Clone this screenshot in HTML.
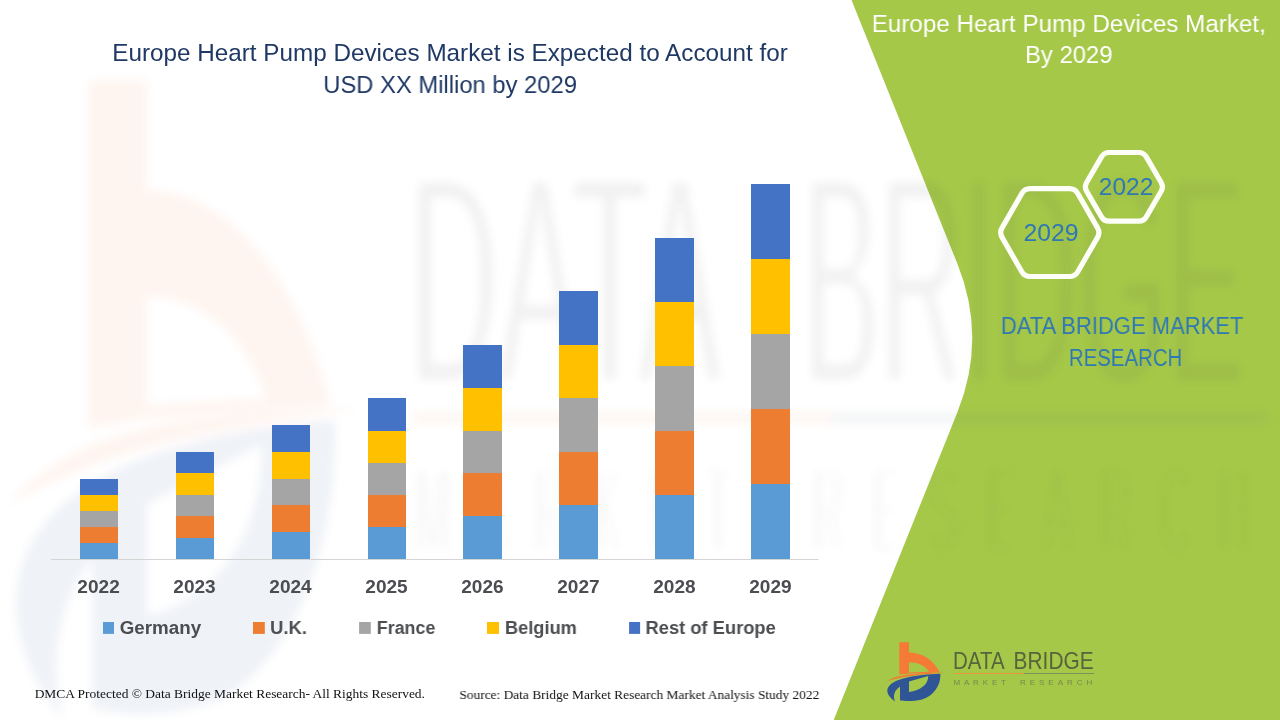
<!DOCTYPE html>
<html>
<head>
<meta charset="utf-8">
<title>Europe Heart Pump Devices Market</title>
<style>
  html, body { margin: 0; padding: 0; background: #ffffff; }
  body { width: 1280px; height: 720px; overflow: hidden; position: relative; font-family: "Liberation Sans", sans-serif; }
  #stage { position: absolute; left: 0; top: 0; width: 1280px; height: 720px; overflow: hidden; background: #fff; }
  svg.layer { position: absolute; left: 0; top: 0; }
  .t { position: absolute; white-space: nowrap; line-height: 1; transform-origin: 0 0; will-change: transform; }
  .title { color: #1f3864; font-size: 22px; }
  .ptitle { color: #ffffff; font-size: 22px; }
  .dbmr { color: #2f78b4; font-size: 22px; }
  .yr { color: #4b4d51; font-weight: bold; font-size: 17.5px; }
  .lg { color: #4b4d51; font-weight: bold; font-size: 17.5px; }
  .ft { color: #111111; font-family: "Liberation Serif", serif; font-size: 13.3px; }
  .hx { color: #2f78b4; font-size: 22px; }
</style>
</head>
<body>
<div id="stage">

<!-- shapes layer -->
<svg class="layer" width="1280" height="720" viewBox="0 0 1280 720">
  <defs>
    <filter id="blur6" x="-5%" y="-5%" width="110%" height="110%"><feGaussianBlur stdDeviation="5"/></filter>
  
    <symbol id="icon" viewBox="886 640 60 64" preserveAspectRatio="none" overflow="visible">
      <path fill="#f47a35" fill-rule="evenodd" d="M899.3 642.2 H909 V652.4 C922 652.4 934 660 939.7 672.4 L909 673.6 L899.3 674.5 Z M909 662.3 V672.4 L929 671.8 C925 665 917 662.3 909 662.3 Z"/>
      <path fill="#f47a35" d="M886 681.6 C896 675.5 910 672.8 944.5 672.8 C915 674.8 900 677.2 886 681.6 Z"/>
      <path fill="#2f5597" fill-rule="evenodd" d="M895 701.6 C887 696 885 690 890 685 C897 678.5 915 674.8 940.3 673.8 C941 684 935 695 922 699.6 C913 701.6 905 701.2 900 700.6 L900 686.6 C894.5 690.5 892.5 695.5 895 701.6 Z M909 681.6 L928.2 676 C928.6 684 921 690.5 909 692 Z"/>
    </symbol>
    <filter id="thinblur" x="-5%" y="-20%" width="110%" height="140%">
      <feMorphology operator="erode" radius="0 4"/>
      <feGaussianBlur stdDeviation="5"/>
    </filter>
  </defs>



  <!-- green panel -->
  <path id="panel" d="M851.5 0 L957.4 263.8 Q987.2 338 957.4 412.3 L833.7 720 L1280 720 L1280 0 Z" fill="#a5c849"/>

  <!-- watermark (stretched, blurred logo) -->
  <g id="wm" opacity="0.075">
    <g filter="url(#blur6)">
      <use href="#icon" x="8.6" y="57" width="360" height="688"/>
      <rect x="413" y="413" width="417" height="10" fill="#e8863f"/>
      <rect x="830" y="413" width="437" height="10" fill="#5f6f7f"/>
    </g>
    <g filter="url(#thinblur)" font-family="Liberation Sans, sans-serif" fill="#4a4a4a">
      <text x="409" y="383" font-size="297" textLength="312" lengthAdjust="spacingAndGlyphs">DATA</text>
      <text x="803" y="383" font-size="297" textLength="441" lengthAdjust="spacingAndGlyphs">BRIDGE</text>
      <g transform="translate(415 553) scale(0.34 1)" fill-opacity="0.9">
        <text x="0" y="0" font-size="124" textLength="930" lengthAdjust="spacing">MARKET</text>
        <text x="1171" y="0" font-size="124" textLength="1283" lengthAdjust="spacing">RESEARCH</text>
      </g>
    </g>
  </g>


  <!-- small logo -->
  <g id="logo-small">
    <use href="#icon" x="886" y="640" width="60" height="64"/>
    <g font-family="Liberation Sans, sans-serif">
      <text x="953" y="669.2" font-size="24.4" fill="#4f5a3c" fill-opacity="0.92" textLength="51.6" lengthAdjust="spacingAndGlyphs">DATA</text>
      <text x="1013.6" y="669.2" font-size="24.4" fill="#4f5a3c" fill-opacity="0.92" textLength="80" lengthAdjust="spacingAndGlyphs">BRIDGE</text>
      <rect x="953.4" y="673" width="70.4" height="1" fill="#e8963f"/>
      <rect x="1023.8" y="673" width="70.4" height="1" fill="#7f8f5a"/>
      <text x="953.4" y="685.4" font-size="8" fill="#6f7c4c" fill-opacity="0.85" textLength="52.6" lengthAdjust="spacing">MARKET</text>
      <text x="1020" y="685.4" font-size="8" fill="#6f7c4c" fill-opacity="0.85" textLength="72.2" lengthAdjust="spacing">RESEARCH</text>
    </g>
  </g>

  <!-- axis -->
  <rect x="51" y="559" width="767.5" height="1" fill="#d4d4d4"/>

  <!-- bars -->
  <g id="bars" shape-rendering="crispEdges">
    <!-- 2022 -->
    <rect x="80" y="479" width="38" height="16" fill="#4472c4"/>
    <rect x="80" y="495" width="38" height="16" fill="#ffc000"/>
    <rect x="80" y="511" width="38" height="16" fill="#a5a5a5"/>
    <rect x="80" y="527" width="38" height="16" fill="#ed7d31"/>
    <rect x="80" y="543" width="38" height="16" fill="#5b9bd5"/>
    <!-- 2023 -->
    <rect x="176" y="452" width="38" height="21" fill="#4472c4"/>
    <rect x="176" y="473" width="38" height="22" fill="#ffc000"/>
    <rect x="176" y="495" width="38" height="21" fill="#a5a5a5"/>
    <rect x="176" y="516" width="38" height="22" fill="#ed7d31"/>
    <rect x="176" y="538" width="38" height="21" fill="#5b9bd5"/>
    <!-- 2024 -->
    <rect x="272" y="425" width="38" height="27" fill="#4472c4"/>
    <rect x="272" y="452" width="38" height="27" fill="#ffc000"/>
    <rect x="272" y="479" width="38" height="26" fill="#a5a5a5"/>
    <rect x="272" y="505" width="38" height="27" fill="#ed7d31"/>
    <rect x="272" y="532" width="38" height="27" fill="#5b9bd5"/>
    <!-- 2025 -->
    <rect x="368" y="398" width="38" height="33" fill="#4472c4"/>
    <rect x="368" y="431" width="38" height="32" fill="#ffc000"/>
    <rect x="368" y="463" width="38" height="32" fill="#a5a5a5"/>
    <rect x="368" y="495" width="38" height="32" fill="#ed7d31"/>
    <rect x="368" y="527" width="38" height="32" fill="#5b9bd5"/>
    <!-- 2026 -->
    <rect x="463" y="345" width="39" height="43" fill="#4472c4"/>
    <rect x="463" y="388" width="39" height="43" fill="#ffc000"/>
    <rect x="463" y="431" width="39" height="42" fill="#a5a5a5"/>
    <rect x="463" y="473" width="39" height="43" fill="#ed7d31"/>
    <rect x="463" y="516" width="39" height="43" fill="#5b9bd5"/>
    <!-- 2027 -->
    <rect x="559" y="291" width="39" height="54" fill="#4472c4"/>
    <rect x="559" y="345" width="39" height="53" fill="#ffc000"/>
    <rect x="559" y="398" width="39" height="54" fill="#a5a5a5"/>
    <rect x="559" y="452" width="39" height="53" fill="#ed7d31"/>
    <rect x="559" y="505" width="39" height="54" fill="#5b9bd5"/>
    <!-- 2028 -->
    <rect x="655" y="238" width="39" height="64" fill="#4472c4"/>
    <rect x="655" y="302" width="39" height="64" fill="#ffc000"/>
    <rect x="655" y="366" width="39" height="65" fill="#a5a5a5"/>
    <rect x="655" y="431" width="39" height="64" fill="#ed7d31"/>
    <rect x="655" y="495" width="39" height="64" fill="#5b9bd5"/>
    <!-- 2029 -->
    <rect x="751" y="184" width="39" height="75" fill="#4472c4"/>
    <rect x="751" y="259" width="39" height="75" fill="#ffc000"/>
    <rect x="751" y="334" width="39" height="75" fill="#a5a5a5"/>
    <rect x="751" y="409" width="39" height="75" fill="#ed7d31"/>
    <rect x="751" y="484" width="39" height="75" fill="#5b9bd5"/>
  </g>

  <!-- legend swatches -->
  <g id="swatches">
    <rect x="103" y="622" width="11" height="11.9" fill="#5b9bd5"/>
    <rect x="253" y="622" width="11.8" height="11.9" fill="#ed7d31"/>
    <rect x="359.1" y="622" width="11.7" height="11.9" fill="#a5a5a5"/>
    <rect x="487" y="622" width="12" height="11.9" fill="#ffc000"/>
    <rect x="629.1" y="622" width="11" height="11.9" fill="#4472c4"/>
  </g>

  <!-- hexagons -->
  <g id="hexes" fill="none" stroke="#fdfef8" stroke-width="5.2" stroke-linejoin="round">
    <path d="M1002.04 237.37 Q999.30 232.60 1002.04 227.83 L1021.81 193.47 Q1024.55 188.70 1030.05 188.70 L1069.55 188.70 Q1075.05 188.70 1077.79 193.47 L1097.56 227.83 Q1100.30 232.60 1097.56 237.37 L1077.79 271.73 Q1075.05 276.50 1069.55 276.50 L1030.05 276.50 Q1024.55 276.50 1021.81 271.73 Z"/>
    <path d="M1086.61 191.18 Q1084.10 186.85 1086.61 182.52 L1101.49 156.83 Q1104.00 152.50 1109.00 152.50 L1138.80 152.50 Q1143.80 152.50 1146.31 156.83 L1161.19 182.52 Q1163.70 186.85 1161.19 191.18 L1146.31 216.87 Q1143.80 221.20 1138.80 221.20 L1109.00 221.20 Q1104.00 221.20 1101.49 216.87 Z"/>
  </g>
</svg>

<!-- text layer -->
<div class="t title" id="t1" style="left:112px; top:41.00px; font-size:24.20px; transform:translateX(0.23px) scaleX(1.0030);">Europe Heart Pump Devices Market is Expected to Account for</div>
<div class="t title" id="t2" style="left:323px; top:73.00px; font-size:24.20px; transform:translateX(0.26px) scaleX(0.9828);">USD XX Million by 2029</div>

<div class="t ptitle" id="p1" style="left:871px; top:11.95px; font-size:24.49px; transform:translateX(0.72px) scaleX(0.9885);">Europe Heart Pump Devices Market,</div>
<div class="t ptitle" id="p2" style="left:1025px; top:42.95px; font-size:24.49px; transform:translateX(0.00px) scaleX(0.9741);">By 2029</div>

<div class="t hx" id="h1" style="left:1023px; top:220.97px; font-size:24.00px; transform:translateX(0.51px) scaleX(1.0324);">2029</div>
<div class="t hx" id="h2" style="left:1098px; top:174.97px; font-size:24.00px; transform:translateX(0.80px) scaleX(1.0198);">2022</div>

<div class="t dbmr" id="d1" style="left:1000px; top:313.95px; font-size:24.49px; transform:translateX(0.85px) scaleX(0.8991);">DATA BRIDGE MARKET</div>
<div class="t dbmr" id="d2" style="left:1068px; top:345.95px; font-size:24.49px; transform:translateX(0.88px) scaleX(0.8333);">RESEARCH</div>

<div class="t yr" id="y0" style="left:77px; top:578.04px; font-size:18.71px; transform:translateX(0.34px) scaleX(1.0200);">2022</div>
<div class="t yr" id="y1" style="left:173px; top:578.04px; font-size:18.71px; transform:translateX(0.32px) scaleX(1.0200);">2023</div>
<div class="t yr" id="y2" style="left:269px; top:578.04px; font-size:18.71px; transform:translateX(0.30px) scaleX(1.0200);">2024</div>
<div class="t yr" id="y3" style="left:365px; top:578.04px; font-size:18.71px; transform:translateX(0.28px) scaleX(1.0200);">2025</div>
<div class="t yr" id="y4" style="left:461px; top:578.04px; font-size:18.71px; transform:translateX(0.26px) scaleX(1.0200);">2026</div>
<div class="t yr" id="y5" style="left:557px; top:578.04px; font-size:18.71px; transform:translateX(0.24px) scaleX(1.0200);">2027</div>
<div class="t yr" id="y6" style="left:653px; top:578.04px; font-size:18.71px; transform:translateX(0.22px) scaleX(1.0200);">2028</div>
<div class="t yr" id="y7" style="left:749px; top:578.04px; font-size:18.71px; transform:translateX(0.20px) scaleX(1.0200);">2029</div>

<div class="t lg" id="l0" style="left:119px; top:619.05px; font-size:18.70px; transform:translateX(0.64px) scaleX(1.0052);">Germany</div>
<div class="t lg" id="l1" style="left:270px; top:619.05px; font-size:18.70px; transform:translateX(0.04px) scaleX(0.9851);">U.K.</div>
<div class="t lg" id="l2" style="left:376px; top:619.05px; font-size:18.70px; transform:translateX(0.75px) scaleX(0.9555);">France</div>
<div class="t lg" id="l3" style="left:504px; top:619.05px; font-size:18.70px; transform:translateX(0.90px) scaleX(0.9765);">Belgium</div>
<div class="t lg" id="l4" style="left:645px; top:619.05px; font-size:18.70px; transform:translateX(0.46px) scaleX(0.9807);">Rest of Europe</div>

<div class="t ft" id="f1" style="left:34px; top:687.03px; font-size:13.44px; transform:translateX(0.65px) scaleX(1.0005);">DMCA Protected © Data Bridge Market Research- All Rights Reserved.</div>
<div class="t ft" id="f2" style="left:459px; top:688.03px; font-size:13.44px; transform:translateX(0.40px) scaleX(0.9965);">Source: Data Bridge Market Research Market Analysis Study 2022</div>

</div>
</body>
</html>
